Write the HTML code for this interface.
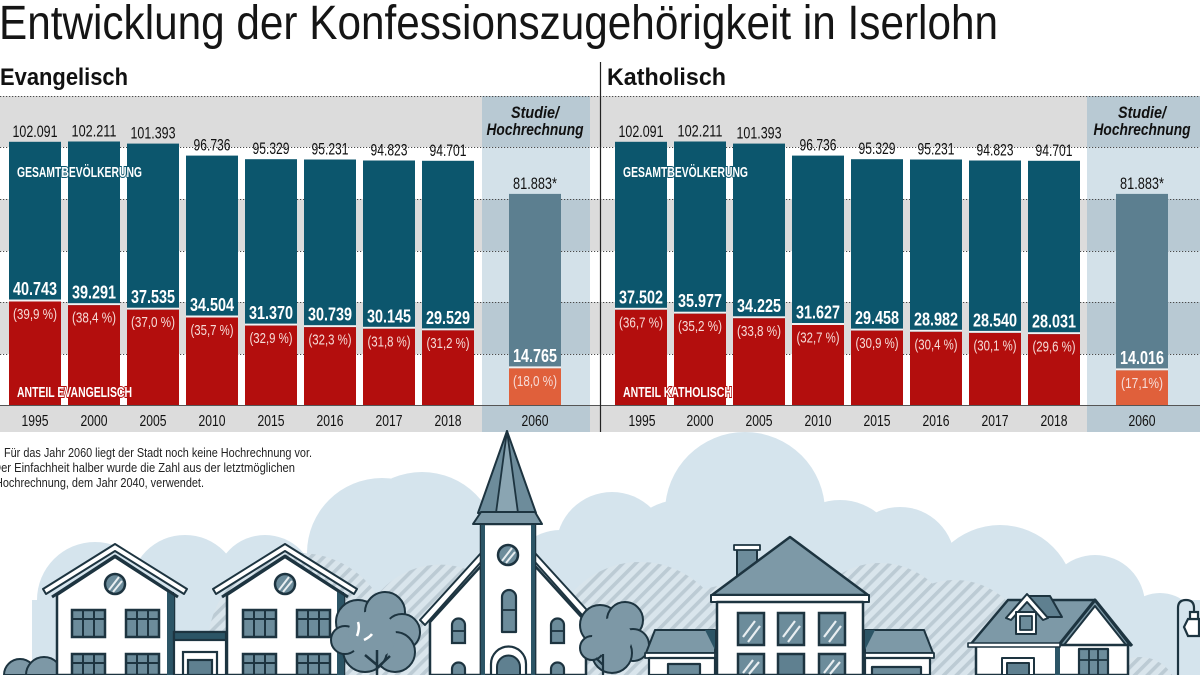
<!DOCTYPE html>
<html>
<head>
<meta charset="utf-8">
<style>
html,body{margin:0;padding:0;background:#fff;width:1200px;height:675px;overflow:hidden;}
svg{display:block;}
.n{font-family:"Liberation Sans Narrow","Liberation Sans",sans-serif;}
.tot{font-size:17px;fill:#111;}
.bn{font-size:18px;font-weight:bold;fill:#fff;}
.pc{font-size:15px;fill:#f6dcd8;}
.yr{font-size:16px;fill:#111;}
.lb{font-size:14.5px;font-weight:bold;fill:#fff;}
.st{font-size:17px;font-weight:bold;font-style:italic;fill:#111;}
.fn{font-size:13px;fill:#222;}
</style>
</head>
<body>
<svg width="1200" height="675" viewBox="0 0 1200 675" xmlns="http://www.w3.org/2000/svg" overflow="hidden">
<defs>
  <pattern id="h" patternUnits="userSpaceOnUse" width="9" height="9" patternTransform="rotate(45)">
    <rect width="9" height="9" fill="#d9e5ec"/>
    <rect width="3.6" height="9" fill="#bccbd4"/>
  </pattern>
  <g id="w">
    <rect width="33" height="27" fill="#6c8c9b" stroke="#1d3440" stroke-width="2.5"/>
    <path d="M11 0V27M22 0V27M0 9H33" stroke="#1d3440" stroke-width="2"/>
  </g>
  <g id="w2">
    <rect width="33" height="21" fill="#6c8c9b" stroke="#1d3440" stroke-width="2.5"/>
    <path d="M11 0V21M22 0V21M0 9H33" stroke="#1d3440" stroke-width="2"/>
  </g>
  <g id="wg">
    <rect width="26" height="32" fill="#6c8c9b" stroke="#1d3440" stroke-width="2.5"/>
    <path d="M5 24L17 8M10 29L22 13" stroke="#e8eef1" stroke-width="2.2"/>
  </g>
  <g id="wg2">
    <rect width="26" height="21" fill="#6c8c9b" stroke="#1d3440" stroke-width="2.5"/>
    <path d="M5 19L15 6M11 20L21 8" stroke="#e8eef1" stroke-width="2.2"/>
  </g>
  <g id="aw">
    <path d="M0 25V7A6.5 6.5 0 0 1 13 7V25Z" fill="#6c8c9b" stroke="#1d3440" stroke-width="2.2"/>
    <path d="M0 13H13" stroke="#1d3440" stroke-width="1.8"/>
  </g>
  <g id="aw2">
    <path d="M0 13V7A6.5 6.5 0 0 1 13 7V13Z" fill="#6c8c9b" stroke="#1d3440" stroke-width="2.2"/>
  </g>
</defs>

<!-- Title -->
<text class="n" x="-1" y="39" font-size="48" fill="#151515" textLength="999" lengthAdjust="spacingAndGlyphs">Entwicklung der Konfessionszugehörigkeit in Iserlohn</text>
<text class="n" x="0" y="85" font-size="24" font-weight="bold" fill="#111" textLength="128" lengthAdjust="spacingAndGlyphs">Evangelisch</text>
<text class="n" x="607" y="85" font-size="24" font-weight="bold" fill="#111" textLength="119" lengthAdjust="spacingAndGlyphs">Katholisch</text>

<!-- background bands -->
<g fill="#dcdcdc">
  <rect x="0" y="96" width="1200" height="51"/>
  <rect x="0" y="199" width="1200" height="52"/>
  <rect x="0" y="302" width="1200" height="52"/>
  <rect x="0" y="405" width="1200" height="27"/>
</g>
<!-- 2060 columns -->
<g>
  <rect x="482" y="96" width="108" height="336" fill="#d3e1e9"/>
  <rect x="1087" y="96" width="113" height="336" fill="#d3e1e9"/>
  <g fill="#b8c9d3">
    <rect x="482" y="96" width="108" height="51"/>
    <rect x="482" y="199" width="108" height="52"/>
    <rect x="482" y="302" width="108" height="52"/>
    <rect x="482" y="405" width="108" height="27"/>
    <rect x="1087" y="96" width="113" height="51"/>
    <rect x="1087" y="199" width="113" height="52"/>
    <rect x="1087" y="302" width="113" height="52"/>
    <rect x="1087" y="405" width="113" height="27"/>
  </g>
</g>
<!-- dotted grid -->
<path d="M0 96.5H1200M0 147.5H1200M0 199.5H1200M0 251.5H1200M0 302.5H1200M0 354.5H1200" stroke="#4a4a4a" stroke-width="1" stroke-dasharray="1.2 1.8" fill="none"/>
<path d="M0 405.5H1200" stroke="#555" stroke-width="1"/>
<path d="M600.5 62V432" stroke="#222" stroke-width="1.2"/>

<!-- Studie/Hochrechnung -->
<text class="n st" x="535" y="118" text-anchor="middle" textLength="48" lengthAdjust="spacingAndGlyphs">Studie/</text>
<text class="n st" x="535" y="135" text-anchor="middle" textLength="97" lengthAdjust="spacingAndGlyphs">Hochrechnung</text>
<text class="n st" x="1142" y="118" text-anchor="middle" textLength="48" lengthAdjust="spacingAndGlyphs">Studie/</text>
<text class="n st" x="1142" y="135" text-anchor="middle" textLength="97" lengthAdjust="spacingAndGlyphs">Hochrechnung</text>

<!-- BARS -->
<g>
  <g fill="#0c566d">
    <rect x="9" y="141.8" width="52" height="263.2"/>
    <rect x="68" y="141.5" width="52" height="263.5"/>
    <rect x="127" y="143.6" width="52" height="261.4"/>
    <rect x="186" y="155.6" width="52" height="249.4"/>
    <rect x="245" y="159.2" width="52" height="245.8"/>
    <rect x="304" y="159.5" width="52" height="245.5"/>
    <rect x="363" y="160.5" width="52" height="244.5"/>
    <rect x="422" y="160.8" width="52" height="244.2"/>
    <rect x="615" y="141.8" width="52" height="263.2"/>
    <rect x="674" y="141.5" width="52" height="263.5"/>
    <rect x="733" y="143.6" width="52" height="261.4"/>
    <rect x="792" y="155.6" width="52" height="249.4"/>
    <rect x="851" y="159.2" width="52" height="245.8"/>
    <rect x="910" y="159.5" width="52" height="245.5"/>
    <rect x="969" y="160.5" width="52" height="244.5"/>
    <rect x="1028" y="160.8" width="52" height="244.2"/>
  </g>
  <g fill="#5c7f90">
    <rect x="509" y="193.9" width="52" height="211.1"/>
    <rect x="1116" y="193.9" width="52" height="211.1"/>
  </g>
  <g fill="#f2f2f2">
    <rect x="9" y="299.5" width="52" height="2"/>
    <rect x="68" y="303.2" width="52" height="2"/>
    <rect x="127" y="307.7" width="52" height="2"/>
    <rect x="186" y="315.5" width="52" height="2"/>
    <rect x="245" y="323.6" width="52" height="2"/>
    <rect x="304" y="325.2" width="52" height="2"/>
    <rect x="363" y="326.8" width="52" height="2"/>
    <rect x="422" y="328.4" width="52" height="2"/>
    <rect x="509" y="366.4" width="52" height="2"/>
    <rect x="615" y="307.8" width="52" height="2"/>
    <rect x="674" y="311.7" width="52" height="2"/>
    <rect x="733" y="316.3" width="52" height="2"/>
    <rect x="792" y="323.0" width="52" height="2"/>
    <rect x="851" y="328.6" width="52" height="2"/>
    <rect x="910" y="329.8" width="52" height="2"/>
    <rect x="969" y="330.9" width="52" height="2"/>
    <rect x="1028" y="332.2" width="52" height="2"/>
    <rect x="1116" y="368.4" width="52" height="2"/>
  </g>
  <g fill="#b30e0d">
    <rect x="9" y="301.5" width="52" height="103.5"/>
    <rect x="68" y="305.2" width="52" height="99.8"/>
    <rect x="127" y="309.7" width="52" height="95.3"/>
    <rect x="186" y="317.5" width="52" height="87.5"/>
    <rect x="245" y="325.6" width="52" height="79.4"/>
    <rect x="304" y="327.2" width="52" height="77.8"/>
    <rect x="363" y="328.8" width="52" height="76.2"/>
    <rect x="422" y="330.4" width="52" height="74.6"/>
    <rect x="615" y="309.8" width="52" height="95.2"/>
    <rect x="674" y="313.7" width="52" height="91.3"/>
    <rect x="733" y="318.3" width="52" height="86.7"/>
    <rect x="792" y="325.0" width="52" height="80"/>
    <rect x="851" y="330.6" width="52" height="74.4"/>
    <rect x="910" y="331.8" width="52" height="73.2"/>
    <rect x="969" y="332.9" width="52" height="72.1"/>
    <rect x="1028" y="334.2" width="52" height="70.8"/>
  </g>
  <g fill="#e0603b">
    <rect x="509" y="368.4" width="52" height="36.6"/>
    <rect x="1116" y="370.4" width="52" height="34.6"/>
  </g>
</g>

<!-- totals -->
<g class="n tot" text-anchor="middle">
  <text x="35" y="137" textLength="45" lengthAdjust="spacingAndGlyphs">102.091</text>
  <text x="94" y="136.5" textLength="45" lengthAdjust="spacingAndGlyphs">102.211</text>
  <text x="153" y="138.6" textLength="45" lengthAdjust="spacingAndGlyphs">101.393</text>
  <text x="212" y="150.6" textLength="37" lengthAdjust="spacingAndGlyphs">96.736</text>
  <text x="271" y="154.2" textLength="37" lengthAdjust="spacingAndGlyphs">95.329</text>
  <text x="330" y="154.5" textLength="37" lengthAdjust="spacingAndGlyphs">95.231</text>
  <text x="389" y="155.5" textLength="37" lengthAdjust="spacingAndGlyphs">94.823</text>
  <text x="448" y="155.8" textLength="37" lengthAdjust="spacingAndGlyphs">94.701</text>
  <text x="535" y="189" textLength="44" lengthAdjust="spacingAndGlyphs">81.883*</text>
  <text x="641" y="137" textLength="45" lengthAdjust="spacingAndGlyphs">102.091</text>
  <text x="700" y="136.5" textLength="45" lengthAdjust="spacingAndGlyphs">102.211</text>
  <text x="759" y="138.6" textLength="45" lengthAdjust="spacingAndGlyphs">101.393</text>
  <text x="818" y="150.6" textLength="37" lengthAdjust="spacingAndGlyphs">96.736</text>
  <text x="877" y="154.2" textLength="37" lengthAdjust="spacingAndGlyphs">95.329</text>
  <text x="936" y="154.5" textLength="37" lengthAdjust="spacingAndGlyphs">95.231</text>
  <text x="995" y="155.5" textLength="37" lengthAdjust="spacingAndGlyphs">94.823</text>
  <text x="1054" y="155.8" textLength="37" lengthAdjust="spacingAndGlyphs">94.701</text>
  <text x="1142" y="189" textLength="44" lengthAdjust="spacingAndGlyphs">81.883*</text>
</g>

<!-- bold inner numbers -->
<g class="n bn" text-anchor="middle">
  <text x="35" y="295" textLength="44" lengthAdjust="spacingAndGlyphs">40.743</text>
  <text x="94" y="298.7" textLength="44" lengthAdjust="spacingAndGlyphs">39.291</text>
  <text x="153" y="303.2" textLength="44" lengthAdjust="spacingAndGlyphs">37.535</text>
  <text x="212" y="311" textLength="44" lengthAdjust="spacingAndGlyphs">34.504</text>
  <text x="271" y="319.1" textLength="44" lengthAdjust="spacingAndGlyphs">31.370</text>
  <text x="330" y="320.7" textLength="44" lengthAdjust="spacingAndGlyphs">30.739</text>
  <text x="389" y="322.3" textLength="44" lengthAdjust="spacingAndGlyphs">30.145</text>
  <text x="448" y="323.9" textLength="44" lengthAdjust="spacingAndGlyphs">29.529</text>
  <text x="535" y="361.9" textLength="44" lengthAdjust="spacingAndGlyphs">14.765</text>
  <text x="641" y="303.3" textLength="44" lengthAdjust="spacingAndGlyphs">37.502</text>
  <text x="700" y="307.2" textLength="44" lengthAdjust="spacingAndGlyphs">35.977</text>
  <text x="759" y="311.8" textLength="44" lengthAdjust="spacingAndGlyphs">34.225</text>
  <text x="818" y="318.5" textLength="44" lengthAdjust="spacingAndGlyphs">31.627</text>
  <text x="877" y="324.1" textLength="44" lengthAdjust="spacingAndGlyphs">29.458</text>
  <text x="936" y="325.3" textLength="44" lengthAdjust="spacingAndGlyphs">28.982</text>
  <text x="995" y="326.4" textLength="44" lengthAdjust="spacingAndGlyphs">28.540</text>
  <text x="1054" y="327.7" textLength="44" lengthAdjust="spacingAndGlyphs">28.031</text>
  <text x="1142" y="363.9" textLength="44" lengthAdjust="spacingAndGlyphs">14.016</text>
</g>

<!-- percentages -->
<g class="n pc" text-anchor="middle">
  <text x="35" y="319" textLength="44" lengthAdjust="spacingAndGlyphs">(39,9 %)</text>
  <text x="94" y="322.7" textLength="44" lengthAdjust="spacingAndGlyphs">(38,4 %)</text>
  <text x="153" y="327.2" textLength="44" lengthAdjust="spacingAndGlyphs">(37,0 %)</text>
  <text x="212" y="335" textLength="43" lengthAdjust="spacingAndGlyphs">(35,7 %)</text>
  <text x="271" y="343.1" textLength="43" lengthAdjust="spacingAndGlyphs">(32,9 %)</text>
  <text x="330" y="344.7" textLength="43" lengthAdjust="spacingAndGlyphs">(32,3 %)</text>
  <text x="389" y="346.3" textLength="43" lengthAdjust="spacingAndGlyphs">(31,8 %)</text>
  <text x="448" y="347.9" textLength="43" lengthAdjust="spacingAndGlyphs">(31,2 %)</text>
  <text x="535" y="385.9" textLength="44" lengthAdjust="spacingAndGlyphs">(18,0 %)</text>
  <text x="641" y="327.3" textLength="44" lengthAdjust="spacingAndGlyphs">(36,7 %)</text>
  <text x="700" y="331.2" textLength="44" lengthAdjust="spacingAndGlyphs">(35,2 %)</text>
  <text x="759" y="335.8" textLength="44" lengthAdjust="spacingAndGlyphs">(33,8 %)</text>
  <text x="818" y="342.5" textLength="43" lengthAdjust="spacingAndGlyphs">(32,7 %)</text>
  <text x="877" y="348.1" textLength="43" lengthAdjust="spacingAndGlyphs">(30,9 %)</text>
  <text x="936" y="349.3" textLength="43" lengthAdjust="spacingAndGlyphs">(30,4 %)</text>
  <text x="995" y="350.4" textLength="43" lengthAdjust="spacingAndGlyphs">(30,1 %)</text>
  <text x="1054" y="351.7" textLength="43" lengthAdjust="spacingAndGlyphs">(29,6 %)</text>
  <text x="1142" y="387.9" textLength="42" lengthAdjust="spacingAndGlyphs">(17,1%)</text>
</g>

<!-- series labels -->
<g class="n lb">
  <text x="17" y="177" textLength="125" lengthAdjust="spacingAndGlyphs" stroke="#0c566d" stroke-width="2" paint-order="stroke">GESAMTBEVÖLKERUNG</text>
  <text x="17" y="397" textLength="115" lengthAdjust="spacingAndGlyphs" stroke="#b30e0d" stroke-width="2" paint-order="stroke">ANTEIL EVANGELISCH</text>
  <text x="623" y="177" textLength="125" lengthAdjust="spacingAndGlyphs" stroke="#0c566d" stroke-width="2" paint-order="stroke">GESAMTBEVÖLKERUNG</text>
  <text x="623" y="397" textLength="109" lengthAdjust="spacingAndGlyphs" stroke="#b30e0d" stroke-width="2" paint-order="stroke">ANTEIL KATHOLISCH</text>
</g>

<!-- years -->
<g class="n yr" text-anchor="middle">
  <text x="35" y="426" textLength="27" lengthAdjust="spacingAndGlyphs">1995</text>
  <text x="94" y="426" textLength="27" lengthAdjust="spacingAndGlyphs">2000</text>
  <text x="153" y="426" textLength="27" lengthAdjust="spacingAndGlyphs">2005</text>
  <text x="212" y="426" textLength="27" lengthAdjust="spacingAndGlyphs">2010</text>
  <text x="271" y="426" textLength="27" lengthAdjust="spacingAndGlyphs">2015</text>
  <text x="330" y="426" textLength="27" lengthAdjust="spacingAndGlyphs">2016</text>
  <text x="389" y="426" textLength="27" lengthAdjust="spacingAndGlyphs">2017</text>
  <text x="448" y="426" textLength="27" lengthAdjust="spacingAndGlyphs">2018</text>
  <text x="535" y="426" textLength="27" lengthAdjust="spacingAndGlyphs">2060</text>
  <text x="642" y="426" textLength="27" lengthAdjust="spacingAndGlyphs">1995</text>
  <text x="700" y="426" textLength="27" lengthAdjust="spacingAndGlyphs">2000</text>
  <text x="759" y="426" textLength="27" lengthAdjust="spacingAndGlyphs">2005</text>
  <text x="818" y="426" textLength="27" lengthAdjust="spacingAndGlyphs">2010</text>
  <text x="877" y="426" textLength="27" lengthAdjust="spacingAndGlyphs">2015</text>
  <text x="936" y="426" textLength="27" lengthAdjust="spacingAndGlyphs">2016</text>
  <text x="995" y="426" textLength="27" lengthAdjust="spacingAndGlyphs">2017</text>
  <text x="1054" y="426" textLength="27" lengthAdjust="spacingAndGlyphs">2018</text>
  <text x="1142" y="426" textLength="27" lengthAdjust="spacingAndGlyphs">2060</text>
</g>

<!-- ILLUSTRATION: clouds -->
<g fill="#d5e4ed">
  <circle cx="95" cy="600" r="58"/>
  <circle cx="185" cy="590" r="55"/>
  <circle cx="265" cy="585" r="50"/>
  <circle cx="382" cy="553" r="75"/>
  <circle cx="422" cy="548" r="76"/>
  <circle cx="480" cy="580" r="60"/>
  <circle cx="612" cy="548" r="56"/>
  <circle cx="560" cy="580" r="50"/>
  <circle cx="745" cy="512" r="80"/>
  <circle cx="680" cy="560" r="60"/>
  <circle cx="840" cy="560" r="60"/>
  <circle cx="900" cy="562" r="55"/>
  <circle cx="1000" cy="600" r="75"/>
  <circle cx="1095" cy="605" r="50"/>
  <circle cx="1160" cy="633" r="40"/>
  <circle cx="1196" cy="655" r="20"/>
  <rect x="32" y="600" width="1168" height="75"/>
</g>
<!-- hatched hills -->
<g fill="url(#h)">
  <path d="M213 675A92 92 0 1 1 387 675Z"/>
  <path d="M366 675A80 80 0 1 1 514 675Z"/>
  <path d="M553 675A90 90 0 1 1 727 675Z"/>
  <path d="M656.5 675A75 75 0 1 1 803.5 675Z"/>
  <path d="M811.4 675A77 77 0 1 1 948.6 675Z"/>
  <path d="M882.7 675A75 75 0 1 1 1027.3 675Z"/>
  <path d="M1107.7 675A38 38 0 0 1 1172.3 675Z"/>
</g>

<!-- bottom-left small tree -->
<g stroke="#1d3440" stroke-width="2" fill="#7d98a6">
  <path d="M4 675A16 16 0 0 1 36 675Z"/>
  <path d="M26 675A18 18 0 0 1 62 675Z"/>
</g>

<!-- House 1 -->
<g stroke="#1d3440" stroke-linejoin="round">
  <polygon points="57,595 115,557 174,595 174,675 57,675" fill="#fff" stroke-width="2.5"/>
  <rect x="167" y="592" width="7" height="83" fill="#2c5566" stroke="none"/>
  <polyline points="52,597 115,556 178,597" fill="none" stroke-width="3"/>
  <polygon points="43,589 115,544 187,589 184,594 115,551 46,594" fill="#fff" stroke-width="2"/>
  <circle cx="115" cy="584" r="10" fill="#6c8c9b" stroke-width="2.5"/>
  <path d="M109 590L119 577M113 592L122 581" stroke="#e8eef1" stroke-width="2"/>
</g>
<use href="#w" x="72" y="610"/>
<use href="#w" x="126" y="610"/>
<use href="#w2" x="72" y="654"/>
<use href="#w2" x="126" y="654"/>

<!-- connector -->
<g stroke="#1d3440" stroke-width="2.2">
  <rect x="174" y="632" width="52" height="43" fill="#fff"/>
  <rect x="174" y="632" width="52" height="8" fill="#2c5566"/>
  <rect x="183" y="652" width="34" height="23" fill="#fff"/>
  <rect x="188" y="660" width="24" height="15" fill="#5f8090"/>
</g>

<!-- House 2 -->
<g stroke="#1d3440" stroke-linejoin="round">
  <polygon points="227,595 285,557 344,595 344,675 227,675" fill="#fff" stroke-width="2.5"/>
  <rect x="337" y="592" width="7" height="83" fill="#2c5566" stroke="none"/>
  <polyline points="222,597 285,556 348,597" fill="none" stroke-width="3"/>
  <polygon points="213,589 285,544 357,589 354,594 285,551 216,594" fill="#fff" stroke-width="2"/>
  <circle cx="285" cy="584" r="10" fill="#6c8c9b" stroke-width="2.5"/>
  <path d="M279 590L289 577M283 592L292 581" stroke="#e8eef1" stroke-width="2"/>
</g>
<use href="#w" x="243" y="610"/>
<use href="#w" x="297" y="610"/>
<use href="#w2" x="243" y="654"/>
<use href="#w2" x="297" y="654"/>

<!-- Tree 1 -->
<g stroke="#1d3440" stroke-width="2">
  <g fill="#7d98a6">
    <circle cx="358" cy="622" r="22"/>
    <circle cx="385" cy="612" r="20"/>
    <circle cx="402" cy="632" r="18"/>
    <circle cx="395" cy="652" r="20"/>
    <circle cx="365" cy="650" r="22"/>
    <circle cx="345" cy="640" r="14"/>
  </g>
  <circle cx="372" cy="635" r="24" fill="#7d98a6" stroke="none"/>
  <path d="M377 675V650M377 665L365 655M377 668L390 656" fill="none" stroke-width="2.5"/>
</g>
<path d="M357 636q3 -8 1 -14M364 640q6 -3 8 -6" stroke="#fff" stroke-width="2.5" fill="none"/>

<!-- Church -->
<g stroke="#1d3440" stroke-linejoin="round">
  <polygon points="430,622 481,566 481,675 430,675" fill="#fff" stroke-width="2.5"/>
  <polygon points="535,566 586,622 586,675 535,675" fill="#fff" stroke-width="2.5"/>
  <polygon points="420,620 481,553 481,562 425,625" fill="#fff" stroke-width="2"/>
  <polygon points="535,553 596,620 591,625 535,562" fill="#fff" stroke-width="2"/>
  <rect x="481" y="524" width="54" height="151" fill="#fff" stroke-width="2.5"/>
  <rect x="481" y="524" width="4" height="151" fill="#2c5566" stroke="none"/>
  <rect x="531" y="524" width="4" height="151" fill="#2c5566" stroke="none"/>
  <polygon points="507,431 478,513 536,513" fill="#6d8c9b" stroke-width="2"/>
  <polygon points="507,431 496,513 518,513" fill="#8aa5b2" stroke-width="1.8"/>
  <polygon points="473,524 481,512 535,512 542,524" fill="#7d99a7" stroke-width="2"/>
  <circle cx="508" cy="555" r="10" fill="#6c8c9b" stroke-width="2.5"/>
  <path d="M502 561L512 548M506 563L515 552" stroke="#e8eef1" stroke-width="2"/>
  <path d="M502 632V597A7 7 0 0 1 516 597V632Z" fill="#6c8c9b" stroke-width="2.2"/>
  <path d="M502 610H516" stroke-width="1.8"/>
  <path d="M491 675V664A17.5 17.5 0 0 1 526 664V675Z" fill="#fff" stroke-width="2.2"/>
  <path d="M497 675V667A11.5 11.5 0 0 1 520 667V675Z" fill="#5f8090" stroke-width="2"/>
</g>
<use href="#aw" x="452" y="618"/>
<use href="#aw" x="551" y="618"/>
<use href="#aw2" x="452" y="662"/>
<use href="#aw2" x="551" y="662"/>

<!-- Tree 2 -->
<g stroke="#1d3440" stroke-width="2" fill="#7d98a6">
  <circle cx="600" cy="625" r="20"/>
  <circle cx="625" cy="620" r="18"/>
  <circle cx="633" cy="645" r="16"/>
  <circle cx="612" cy="653" r="20"/>
  <circle cx="592" cy="648" r="12"/>
  <circle cx="612" cy="638" r="20" stroke="none"/>
  <path d="M603 675V654M603 665L596 658" fill="none" stroke-width="2.2"/>
</g>

<!-- Big house -->
<g stroke="#1d3440" stroke-linejoin="round">
  <rect x="737" y="548" width="20" height="30" fill="#6d8c9b" stroke-width="2"/>
  <rect x="734" y="545" width="26" height="5" fill="#fff" stroke-width="1.8"/>
  <polygon points="712,595 790,537 868,595" fill="#7d99a7" stroke-width="2.5"/>
  <rect x="711" y="595" width="158" height="7" fill="#fff" stroke-width="2"/>
  <rect x="717" y="602" width="146" height="73" fill="#fff" stroke-width="2.5"/>
  <polygon points="646,653 655,630 715,630 715,653" fill="#7d99a7" stroke-width="2"/>
  <rect x="645" y="653" width="70" height="5" fill="#fff" stroke-width="1.8"/>
  <rect x="649" y="658" width="66" height="17" fill="#fff" stroke-width="2.2"/>
  <rect x="668" y="664" width="32" height="11" fill="#6c8c9b" stroke-width="2.2"/>
  <polygon points="865,630 924,630 933,653 865,653" fill="#7d99a7" stroke-width="2"/>
  <rect x="865" y="653" width="69" height="5" fill="#fff" stroke-width="1.8"/>
  <rect x="865" y="658" width="65" height="17" fill="#fff" stroke-width="2.2"/>
  <rect x="872" y="667" width="49" height="8" fill="#6c8c9b" stroke-width="2.2"/>
  <polygon points="705,630 715,630 715,650" fill="#2c5566" stroke="none"/>
  <polygon points="865,630 875,630 865,650" fill="#2c5566" stroke="none"/>
</g>
<use href="#wg" x="738" y="613"/>
<use href="#wg" x="778" y="613"/>
<use href="#wg" x="819" y="613"/>
<use href="#wg2" x="738" y="654"/>
<rect x="778" y="654" width="26" height="21" fill="#5f8090" stroke="#1d3440" stroke-width="2.5"/>
<use href="#wg2" x="819" y="654"/>

<!-- Small house right -->
<g stroke="#1d3440" stroke-linejoin="round">
  <polygon points="970,645 1008,600 1095,600 1130,645" fill="#7d99a7" stroke-width="2.5"/>
  <polygon points="1064,645 1095,606 1126,645" fill="#fff" stroke-width="2"/>
  <polyline points="1058,646 1095,600 1132,646" fill="none" stroke-width="3"/>
  <rect x="976" y="645" width="152" height="30" fill="#fff" stroke-width="2.5"/>
  <rect x="1055" y="645" width="5" height="30" fill="#2c5566" stroke="none"/>
  <rect x="968" y="643" width="92" height="4" fill="#fff" stroke-width="1.6"/>
  <polygon points="1027,596 1050,596 1062,617 1046,617" fill="#5f8090" stroke-width="2"/>
  <polygon points="1006,618 1027,594 1048,618 1043,620 1027,602 1011,620" fill="#fff" stroke-width="2"/>
  <rect x="1016" y="612" width="20" height="22" fill="#fff" stroke-width="2"/>
  <rect x="1020" y="616" width="12" height="14" fill="#6c8c9b" stroke-width="1.8"/>
  <rect x="1079" y="649" width="29" height="26" fill="#6c8c9b" stroke-width="2.2"/>
  <path d="M1089 649V675M1098 649V675M1079 660H1108" stroke-width="1.8"/>
  <rect x="1002" y="658" width="32" height="17" fill="#fff" stroke-width="2"/>
  <rect x="1007" y="663" width="22" height="12" fill="#5f8090" stroke-width="2"/>
</g>

<!-- Street lamp -->
<g stroke="#1d3440" stroke-width="2.2" fill="none">
  <path d="M1178 675V608Q1178 600 1186 600Q1194 600 1194 608V613"/>
  <polygon points="1188,619 1199,619 1199,636 1188,636 1184,627" fill="#fff"/>
  <rect x="1190" y="612" width="8" height="7" fill="#fff"/>
</g>

<!-- footnote -->
<g class="n fn">
  <text x="4" y="457" textLength="308" lengthAdjust="spacingAndGlyphs">Für das Jahr 2060 liegt der Stadt noch keine Hochrechnung vor.</text>
  <text x="-7" y="472" textLength="302" lengthAdjust="spacingAndGlyphs">Der Einfachheit halber wurde die Zahl aus der letztmöglichen</text>
  <text x="-5" y="487" textLength="209" lengthAdjust="spacingAndGlyphs">Hochrechnung, dem Jahr 2040, verwendet.</text>
</g>
</svg>
</body>
</html>
